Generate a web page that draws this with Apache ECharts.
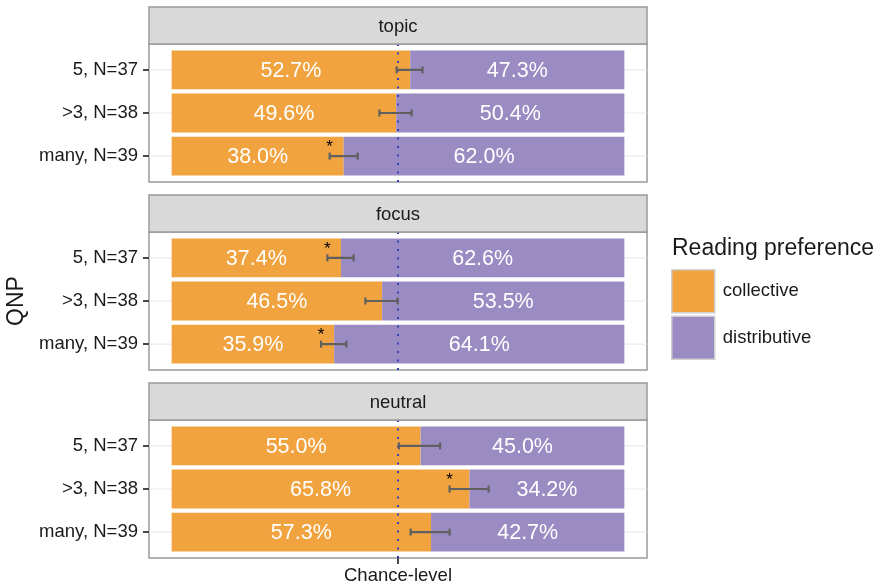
<!DOCTYPE html>
<html>
<head>
<meta charset="utf-8">
<script src="https://cdn.jsdelivr.net/npm/echarts@6/dist/echarts.min.js"></script>
<style>
  html, body { margin: 0; padding: 0; background: #ffffff; }
  #chart { width: 884px; height: 585px; }
</style>
</head>
<body>
<div id="chart"></div>
<script>
// Categories (QNP condition) and facet names
const categories = ['5, N=37', '>3, N=38', 'many, N=39'];
const panelNames = ['topic', 'focus', 'neutral'];
const seriesNames = ['collective', 'distributive'];
const chanceLevel = 50;
const chanceLabel = 'Chance-level';

// Percent of readings per condition
const topicCollective = [52.7, 49.6, 38.0];
const topicDistributive = [47.3, 50.4, 62.0];
const focusCollective = [37.4, 46.5, 35.9];
const focusDistributive = [62.6, 53.5, 64.1];
const neutralCollective = [55.0, 65.8, 57.3];
const neutralDistributive = [45.0, 34.2, 42.7];

// Confidence interval bounds around the collective share
const topicLow = [49.7, 45.9, 34.9];
const topicHigh = [55.4, 53.0, 41.1];
const focusLow = [34.4, 42.8, 33.0];
const focusHigh = [40.2, 49.9, 38.6];
const neutralLow = [50.2, 61.4, 52.8];
const neutralHigh = [59.3, 70.0, 61.4];

// Significant difference from chance
const topicSig = [false, false, true];
const focusSig = [true, false, true];
const neutralSig = [false, true, false];

const collectiveByPanel = [topicCollective, focusCollective, neutralCollective];
const distributiveByPanel = [topicDistributive, focusDistributive, neutralDistributive];
const lowByPanel = [topicLow, focusLow, neutralLow];
const highByPanel = [topicHigh, focusHigh, neutralHigh];
const sigByPanel = [topicSig, focusSig, neutralSig];

// Styling / layout
const FONT = '"Liberation Sans", Arial, Helvetica, sans-serif';
const TEXT = '#1a1a1a';
const ORANGE = '#F0A33F';
const PURPLE = '#9A8BC3';
const BORDER = '#9a9a9a';
const plotLeft = 149;
const plotWidth = 498;
const stripTops = [7, 195, 383];
const stripH = 37;
const bodyH = 138;
const BAR_WIDTH = 0.9;

const chart = echarts.init(document.getElementById('chart'), null, { renderer: 'canvas' });

const grids = [], xAxes = [], yAxes = [], series = [], graphics = [];

panelNames.forEach((panel, i) => {
  const top = stripTops[i] + stripH;
  grids.push({
    left: plotLeft, top: top, width: plotWidth, height: bodyH,
    containLabel: false, outerBoundsMode: 'none',
    show: true, borderColor: BORDER, borderWidth: 1.5, backgroundColor: '#ffffff'
  });
  const isBottom = i === panelNames.length - 1;
  xAxes.push({
    gridIndex: i, type: 'value', min: -5, max: 105,
    show: isBottom, position: 'bottom',
    axisLine: { show: false, onZero: false },
    splitLine: { show: false },
    axisTick: { show: true, customValues: [chanceLevel], length: 6, lineStyle: { color: '#333333', width: 1.8 } },
    axisLabel: {
      show: true, customValues: [chanceLevel], formatter: () => chanceLabel,
      fontSize: 18.5, color: TEXT, fontFamily: FONT, margin: 8
    }
  });
  yAxes.push({
    gridIndex: i, type: 'value', min: 0.4, max: 3.6, inverse: true, position: 'left',
    name: i === 1 ? 'QNP' : '',
    nameLocation: 'middle', nameGap: 121,
    nameTextStyle: { fontSize: 23, color: TEXT, fontFamily: FONT },
    axisLine: { show: false, onZero: false },
    splitLine: { show: false },
    axisTick: { show: true, customValues: [1, 2, 3], length: 6, lineStyle: { color: '#333333', width: 1.8 } },
    axisLabel: {
      show: true, customValues: [1, 2, 3],
      formatter: v => categories[Math.round(v) - 1],
      fontSize: 18.5, color: TEXT, fontFamily: FONT, margin: 11
    }
  });

  // faint horizontal guide lines at each category
  series.push({
    type: 'custom', name: 'guides', xAxisIndex: i, yAxisIndex: i, silent: true,
    data: categories.map((c, k) => [k + 1]),
    encode: { y: 0 },
    renderItem: (params, api) => {
      const p = api.coord([0, api.value(0)]);
      const cs = params.coordSys;
      return {
        type: 'line',
        shape: { x1: cs.x, y1: p[1], x2: cs.x + cs.width, y2: p[1] },
        style: { stroke: '#ebebeb', lineWidth: 1.2 }
      };
    }
  });

  // stacked horizontal bars with percentage labels
  const barRender = (params, api) => {
    const y = api.value(2);
    const a = api.coord([api.value(0), y]);
    const b = api.coord([api.value(1), y]);
    const h = api.size([0, BAR_WIDTH])[1];
    return {
      type: 'group',
      children: [
        {
          type: 'rect',
          shape: { x: a[0], y: a[1] - h / 2, width: b[0] - a[0], height: h },
          style: { fill: api.visual('color') }
        },
        {
          type: 'text',
          x: (a[0] + b[0]) / 2, y: a[1] + 1,
          style: {
            text: api.value(3).toFixed(1) + '%',
            fill: '#ffffff', fontSize: 21.5, fontFamily: FONT,
            align: 'center', verticalAlign: 'middle'
          }
        }
      ]
    };
  };
  const col = collectiveByPanel[i];
  const dis = distributiveByPanel[i];
  series.push({
    type: 'custom', name: seriesNames[0], xAxisIndex: i, yAxisIndex: i,
    itemStyle: { color: ORANGE },
    data: col.map((v, k) => [0, v, k + 1, v]),
    encode: { x: [0, 1], y: 2 },
    renderItem: barRender
  });
  series.push({
    type: 'custom', name: seriesNames[1], xAxisIndex: i, yAxisIndex: i,
    itemStyle: { color: PURPLE },
    data: dis.map((v, k) => [col[k], col[k] + v, k + 1, v]),
    encode: { x: [0, 1], y: 2 },
    renderItem: barRender
  });

  // dotted chance-level reference line
  series.push({
    type: 'custom', name: 'chance', xAxisIndex: i, yAxisIndex: i, silent: true,
    data: [[chanceLevel]],
    encode: { x: 0 },
    renderItem: (params, api) => {
      const p = api.coord([api.value(0), 2]);
      const cs = params.coordSys;
      return {
        type: 'line',
        shape: { x1: p[0], y1: cs.y, x2: p[0], y2: cs.y + cs.height },
        style: { stroke: '#3542b5', lineWidth: 2, lineDash: [2, 6.5] }
      };
    }
  });

  // error bars with significance markers
  const lo = lowByPanel[i], hi = highByPanel[i], sig = sigByPanel[i];
  series.push({
    type: 'custom', name: 'interval', xAxisIndex: i, yAxisIndex: i, silent: true,
    data: lo.map((v, k) => [v, hi[k], k + 1, sig[k] ? 1 : 0]),
    encode: { x: [0, 1], y: 2 },
    renderItem: (params, api) => {
      const y = api.value(2);
      const a = api.coord([api.value(0), y]);
      const b = api.coord([api.value(1), y]);
      const cap = 3.5;
      const stroke = { stroke: '#606060', lineWidth: 2.2 };
      const children = [
        { type: 'line', shape: { x1: a[0], y1: a[1], x2: b[0], y2: b[1] }, style: stroke },
        { type: 'line', shape: { x1: a[0], y1: a[1] - cap, x2: a[0], y2: a[1] + cap }, style: stroke },
        { type: 'line', shape: { x1: b[0], y1: b[1] - cap, x2: b[0], y2: b[1] + cap }, style: stroke }
      ];
      if (api.value(3)) {
        children.push({
          type: 'text', x: a[0], y: a[1] - 9,
          style: { text: '*', fill: '#000000', fontSize: 17, fontFamily: FONT, align: 'center', verticalAlign: 'middle' }
        });
      }
      return { type: 'group', children };
    }
  });

  // facet strip
  graphics.push({
    type: 'rect', z: 10,
    shape: { x: plotLeft, y: stripTops[i], width: plotWidth, height: stripH },
    style: { fill: '#d9d9d9', stroke: BORDER, lineWidth: 1.5 }
  });
  graphics.push({
    type: 'text', z: 11,
    x: plotLeft + plotWidth / 2, y: stripTops[i] + stripH / 2 + 1,
    style: { text: panel, fill: TEXT, fontSize: 18.5, fontFamily: FONT, align: 'center', verticalAlign: 'middle' }
  });
});

chart.setOption({
  animation: false,
  backgroundColor: '#ffffff',
  textStyle: { fontFamily: FONT },
  title: {
    text: 'Reading preference', left: 672, top: 237, padding: 0,
    textStyle: { fontSize: 23, fontWeight: 'normal', color: TEXT, fontFamily: FONT }
  },
  legend: {
    data: seriesNames.map(n => ({ name: n, icon: 'rect' })),
    orient: 'vertical', left: 671, top: 269, padding: 0,
    itemWidth: 43, itemHeight: 43, itemGap: 2,
    selectedMode: false,
    itemStyle: { borderColor: '#d0d0d0', borderWidth: 1.5 },
    textStyle: { fontSize: 18.5, color: TEXT, fontFamily: FONT, padding: [0, 0, 0, 3] }
  },
  grid: grids,
  xAxis: xAxes,
  yAxis: yAxes,
  series: series,
  graphic: graphics
});
</script>
</body>
</html>
